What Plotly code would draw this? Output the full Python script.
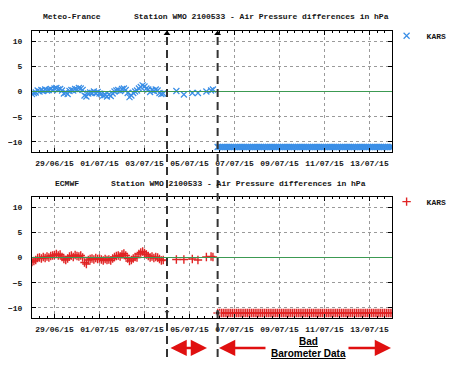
import pandas as pd
import plotly.graph_objects as go

# ---------------- data ----------------
DENSE_START = "2015-06-28 00:00"
DENSE_STEP = "2h"
mf_dense = [-0.5, -0.3, -0.2,
            0.2, 0.0, 0.3, 0.1, 0.4, 0.2, 0.3, 0.5, 0.3,
            0.6, 0.7, 0.4, 0.5, 0.2,
            -0.4, -0.2, -0.5,
            0.1, 0.3, 0.2, 0.5, 0.4, 0.7, 0.6,
            0.3, -0.8, -1.0,
            -0.4, -0.2, -0.3, 0.0, -0.3, -0.1, -0.4,
            -0.5, -0.8, -0.7, -1.0, -0.6, -0.9, -0.4,
            0.0, 0.2, 0.3, 0.1, 0.5, 0.6, 0.3,
            -0.3, -1.1, -0.8,
            -0.3, 0.0, 0.2,
            0.6, 0.9, 1.2, 1.0,
            0.6, 0.4, -0.1,
            0.3, 0.1, 0.4, 0.2,
            -0.3, -0.5, -0.4]
ec_dense = [-0.9, -0.7, -0.5,
            -0.1, 0.0, -0.2, 0.1, -0.1, 0.2, 0.0, 0.3, 0.4,
            0.5, 0.7, 0.4, 0.6, 0.1,
            -0.3, -0.5, -0.2,
            0.2, 0.4, 0.1, 0.5, 0.3, 0.2, 0.4,
            0.0, -1.0, -1.3,
            -0.5, -0.3, -0.2, -0.4, -0.1, -0.3, -0.2,
            -0.4, -0.6, -0.3, -0.5, -0.4, -0.6, -0.2,
            0.1, 0.3, 0.4, 0.2, 0.6, 0.8, 0.4,
            -0.2, -0.7, -0.5,
            -0.2, 0.1, 0.0,
            0.7, 1.0, 1.2, 0.9,
            0.6, 0.3, 0.0,
            0.2, -0.1, 0.1, 0.0,
            -0.3, -0.6, -0.5]

sparse_times = ["2015-07-04 10:00", "2015-07-04 18:00", "2015-07-05 03:00",
                "2015-07-05 09:00", "2015-07-05 18:00", "2015-07-05 23:00",
                "2015-07-06 01:00"]
mf_sparse = [0.1, -0.6, -0.3, -0.3, 0.0, 0.2, 0.4]
ec_sparse = [-0.4, -0.4, -0.3, -0.5, 0.1, 0.2, 0.1]

BAD_START = "2015-07-06 06:00"
BAD_END = "2015-07-14 00:00"
BAD_VALUE = -11.0

event_times = ["2015-07-04 00:00", "2015-07-06 06:00"]

x_range = ["2015-06-28 00:00", "2015-07-14 00:00"]
y_range = [-12, 12]
y_ticks = [-10, -5, 0, 5, 10]
x_tick0 = "2015-06-29"

title_left = ["Meteo-France", "ECMWF"]
title_main = "Station WMO 2100533 - Air Pressure differences in hPa"
series_name = "KARS"

# ---------------- build ----------------
dense_t = list(pd.date_range(DENSE_START, periods=len(mf_dense), freq=DENSE_STEP))
bad_t = list(pd.date_range(BAD_START, BAD_END, freq="2h"))
sparse_t = list(pd.to_datetime(sparse_times))

mf_x = dense_t + sparse_t + bad_t
mf_y = mf_dense + mf_sparse + [BAD_VALUE] * len(bad_t)
ec_x = dense_t + sparse_t + bad_t
ec_y = ec_dense + ec_sparse + [BAD_VALUE] * len(bad_t)

BLUE = "#3a8ee6"
RED = "#e02424"
MONO = "Liberation Mono"
TXT = "#151515"

fig = go.Figure()
fig.add_trace(go.Scatter(x=mf_x, y=mf_y, mode="markers", name=series_name,
                         marker=dict(symbol="x-thin", size=6, line=dict(color=BLUE, width=1.2)),
                         xaxis="x", yaxis="y", legend="legend"))
fig.add_trace(go.Scatter(x=ec_x, y=ec_y, mode="markers", name=series_name,
                         marker=dict(symbol="cross-thin", size=6, line=dict(color=RED, width=1.4)),
                         xaxis="x2", yaxis="y2", legend="legend2"))

# arrow heads of the event lines
fig.add_trace(go.Scatter(x=pd.to_datetime(event_times), y=[11.5, 11.5], mode="markers",
                         marker=dict(symbol="triangle-up", size=6, color="black"),
                         xaxis="x", yaxis="y", showlegend=False, cliponaxis=False))
fig.add_trace(go.Scatter(x=pd.to_datetime(event_times), y=[-10.8, BAD_VALUE], mode="markers",
                         marker=dict(symbol=["triangle-down", "circle"], size=[6, 5], color="black"),
                         xaxis="x2", yaxis="y2", showlegend=False, cliponaxis=False))

axis_font = dict(family=MONO, size=8, color=TXT, weight="bold")
common_x = dict(type="date", range=x_range, tick0=x_tick0, dtick=2 * 86400000,
                tickformat="%d/%m/%y", ticks="inside", ticklen=4, tickcolor="black",
                showline=True, linecolor="black", linewidth=1, mirror="ticks",
                showgrid=True, gridcolor="#9a9a9a", griddash="dot", gridwidth=1,
                zeroline=False, tickfont=axis_font, ticklabelstandoff=3, automargin=False,
                minor=dict(dtick=8 * 3600000, ticks="inside", ticklen=2, tickcolor="black", showgrid=False))
common_y = dict(range=y_range, tickvals=y_ticks, ticks="inside", ticklen=4, tickcolor="black",
                showline=True, linecolor="black", linewidth=1, mirror="ticks",
                showgrid=True, gridcolor="#9a9a9a", griddash="dot", gridwidth=1,
                zeroline=False, tickfont=axis_font, ticklabelstandoff=7, automargin=False)

TOP_DOM = [0.5784, 1.0]
BOT_DOM = [0.0, 0.4216]

shapes = []
for ax in ["y", "y2"]:
    shapes.append(dict(type="line", xref="x domain" if ax == "y" else "x2 domain", x0=0, x1=1,
                       yref=ax, y0=0, y1=0, line=dict(color="#3c9a52", width=1), layer="above"))
for t in event_times:
    shapes.append(dict(type="line", xref="x", x0=t, x1=t, yref="paper", y0=-0.136, y1=0.99,
                       line=dict(color="#333333", width=2, dash="8px,5px"), layer="above"))

title_font = dict(family=MONO, size=8, color=TXT, weight="bold")
label_font = dict(family="Liberation Sans", size=10, color="black", weight="bold")
annotations = [
    dict(text=title_left[0], x=0.0250, y=1.0488, xref="paper", yref="paper",
         xanchor="left", yanchor="middle", showarrow=False, font=title_font),
    dict(text=title_main, x=0.2778, y=1.0488, xref="paper", yref="paper",
         xanchor="left", yanchor="middle", showarrow=False, font=title_font),
    dict(text=title_left[1], x=0.0583, y=0.470, xref="paper", yref="paper",
         xanchor="left", yanchor="middle", showarrow=False, font=title_font),
    dict(text=title_main, x=0.2139, y=0.470, xref="paper", yref="paper",
         xanchor="left", yanchor="middle", showarrow=False, font=title_font),
    dict(text="<u>Bad</u>", x=0.7667, y=-0.0836, xref="paper", yref="paper",
         xanchor="center", yanchor="middle", showarrow=False, font=label_font),
    dict(text="<u>Barometer Data</u>", x=0.7667, y=-0.125, xref="paper", yref="paper",
         xanchor="center", yanchor="middle", showarrow=False, font=label_font),
]
arrow_style = dict(xref="paper", yref="paper", text="", showarrow=True, arrowcolor="#e01010",
                   arrowwidth=2.5, arrowhead=2, arrowsize=1.3, ay=0, standoff=0, startstandoff=0)
annotations.append(dict(x=0.4861, y=-0.1045, ax=-38, arrowside="end+start", startarrowhead=2,
                        startarrowsize=1.3, **arrow_style))
annotations.append(dict(x=0.5194, y=-0.1045, ax=48, **arrow_style))
annotations.append(dict(x=0.9972, y=-0.1045, ax=-44, **arrow_style))

legend_common = dict(x=0.985, xanchor="left", yanchor="top", bgcolor="rgba(0,0,0,0)",
                     font=dict(family=MONO, size=8, color=TXT, weight="bold"),
                     itemwidth=30, tracegroupgap=0)

# page body has an 8px margin: the figure is sized to fill the rest of the 459x366 window
fig.update_layout(
    width=451, height=358,
    margin=dict(l=24, r=67, t=23, b=48, autoexpand=False),
    paper_bgcolor="white", plot_bgcolor="white",
    xaxis=dict(domain=[0, 1], anchor="y", **common_x),
    yaxis=dict(domain=TOP_DOM, anchor="x", **common_y),
    xaxis2=dict(domain=[0, 1], anchor="y2", **common_x),
    yaxis2=dict(domain=BOT_DOM, anchor="x2", **common_y),
    legend=dict(y=1.034, **legend_common),
    legend2=dict(y=0.456, **legend_common),
    shapes=shapes,
    annotations=annotations,
    showlegend=True,
)

fig.write_html("out.html")
